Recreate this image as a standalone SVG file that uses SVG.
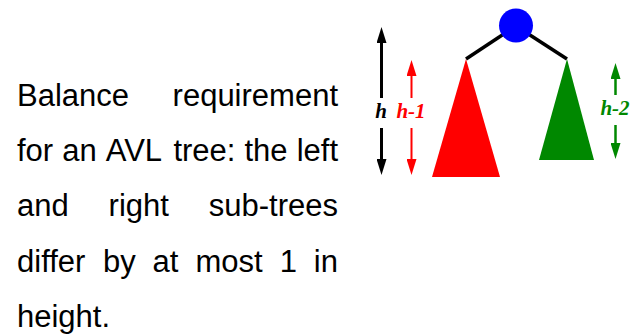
<svg xmlns="http://www.w3.org/2000/svg" width="636" height="335" viewBox="0 0 636 335">
<style>
.body{font-family:"Liberation Sans",Arial,sans-serif;font-size:31px;fill:#000}
.lbl{font-family:"Liberation Serif","Times New Roman",serif;font-size:21px;font-weight:bold;font-style:italic;text-anchor:middle}
.edge{stroke:#000;stroke-width:3.5;fill:none}
</style>
<defs>
<marker id="ahK" markerUnits="userSpaceOnUse" markerWidth="16" markerHeight="10" refX="0" refY="5" orient="auto-start-reverse"><path d="M0,0 L16,5 L0,10 z" fill="#000"/></marker>
<marker id="ahR" markerUnits="userSpaceOnUse" markerWidth="16" markerHeight="10" refX="0" refY="5" orient="auto-start-reverse"><path d="M0,0 L16,5 L0,10 z" fill="#ff0000"/></marker>
<marker id="ahG" markerUnits="userSpaceOnUse" markerWidth="16" markerHeight="10" refX="0" refY="5" orient="auto-start-reverse"><path d="M0,0 L16,5 L0,10 z" fill="#008800"/></marker>
</defs>
<rect width="636" height="335" fill="#fff"/>
<g id="caption" class="body">
<text y="105.5"><tspan x="17">Balance</tspan><tspan x="338" text-anchor="end">requirement</tspan></text>
<text y="161"><tspan x="17">for</tspan><tspan x="62.2">an</tspan><tspan x="105.8">AVL</tspan><tspan x="173.4">tree:</tspan><tspan x="244.5">the</tspan><tspan x="338" text-anchor="end">left</tspan></text>
<text y="216.3"><tspan x="17">and</tspan><tspan x="108.6">right</tspan><tspan x="338" text-anchor="end">sub-trees</tspan></text>
<text y="271.6"><tspan x="17">differ</tspan><tspan x="102.9">by</tspan><tspan x="152.6">at</tspan><tspan x="195.5">most</tspan><tspan x="279.7">1</tspan><tspan x="338" text-anchor="end">in</tspan></text>
<text y="327" x="17">height.</text>
</g>
<g id="connectors">
<line class="edge" x1="466" y1="59" x2="516" y2="26"/>
<line class="edge" x1="516" y1="26" x2="567" y2="59"/>
</g>
<g id="root"><circle cx="516" cy="25.5" r="17" fill="#0000ff"/></g>
<g id="left-subtree"><polygon points="466,59 432,177 500,177" fill="#ff0000"/></g>
<g id="right-subtree"><polygon points="567,59 539,160 594,160" fill="#008800"/></g>
<g id="height-h">
<line x1="381.5" y1="43" x2="381.5" y2="98" stroke="#000" stroke-width="3" marker-start="url(#ahK)"/>
<line x1="381.5" y1="128" x2="381.5" y2="159" stroke="#000" stroke-width="3" marker-end="url(#ahK)"/>
<text class="lbl" x="381" y="118" fill="#000">h</text>
</g>
<g id="height-h1">
<line x1="411.5" y1="76" x2="411.5" y2="98" stroke="#ff0000" stroke-width="2" marker-start="url(#ahR)"/>
<line x1="411.5" y1="128" x2="411.5" y2="159" stroke="#ff0000" stroke-width="2" marker-end="url(#ahR)"/>
<text class="lbl" x="411" y="118" fill="#ff0000">h-1</text>
</g>
<g id="height-h2">
<line x1="615.5" y1="79" x2="615.5" y2="95" stroke="#008800" stroke-width="2.5" marker-start="url(#ahG)"/>
<line x1="615.5" y1="125" x2="615.5" y2="143" stroke="#008800" stroke-width="2.5" marker-end="url(#ahG)"/>
<text class="lbl" x="615" y="115" fill="#008800">h-2</text>
</g>
</svg>
